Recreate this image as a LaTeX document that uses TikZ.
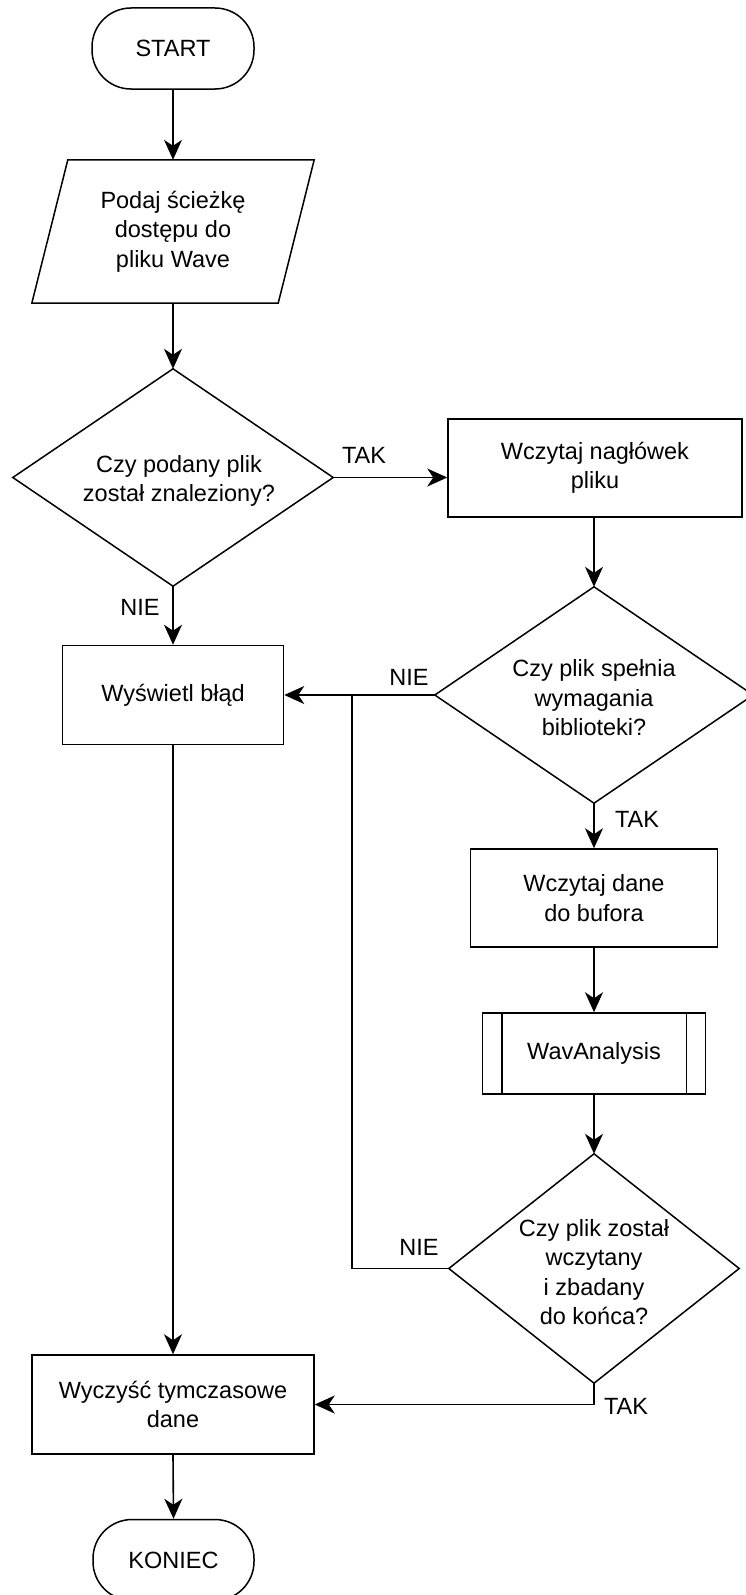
\documentclass[tikz,border=0pt]{standalone}
\usepackage{fontspec}
\setmainfont{Liberation Sans}
\usetikzlibrary{arrows.meta}
\begin{document}
\begin{tikzpicture}[x=1pt,y=-1pt,
  every node/.style={font=\fontsize{23.5pt}{29.5pt}\selectfont, text=black, inner sep=0pt},
  boxnode/.style={draw, line width=1.5pt, align=center, rectangle},
  ghost/.style={rectangle, align=center},
  term/.style={draw, line width=1.5pt, rectangle, rounded corners=39pt, align=center},
  shapeline/.style={draw, line width=1.5pt, line join=miter},
  conn/.style={line width=1.6pt, -{Stealth[length=20pt,width=18pt,inset=6pt]}},
  plainconn/.style={line width=1.6pt},
  lbl/.style={font=\fontsize{23.5pt}{29.5pt}\selectfont}
]
\useasboundingbox (0,0) rectangle (746,1595);

% nodes
\node[term, minimum width=162pt, minimum height=81pt] (start) at (173,48.5) {START};
\node[ghost, minimum width=282pt, minimum height=143pt] (in) at (173,231.5) {Podaj ścieżkę\\dostępu do\\pliku Wave};
\draw[shapeline] ([xshift=36pt]in.north west) -- (in.north east) -- ([xshift=-36pt]in.south east) -- (in.south west) -- cycle;

\node[ghost, minimum width=320pt, minimum height=217pt] (d1) at (173,477.5) {};
\draw[shapeline] (d1.north) -- (d1.east) -- (d1.south) -- (d1.west) -- cycle;
\node[align=center] (d1t) at (179,481) {Czy podany plik\\został znaleziony?};

\node[boxnode, minimum width=294pt, minimum height=98pt] (b1) at (595,468) {Wczytaj nagłówek\\pliku};

\node[ghost, minimum width=318pt, minimum height=216pt] (d2) at (594,695) {};
\draw[shapeline] (d2.north) -- (d2.east) -- (d2.south) -- (d2.west) -- cycle;
\node[align=center] (d2t) at (594,698) {Czy plik spełnia\\wymagania\\biblioteki?};

\node[boxnode, minimum width=221pt, minimum height=99pt] (err) at (173,695) {Wyświetl błąd};

\node[boxnode, minimum width=247pt, minimum height=98pt] (b2) at (594,898) {Wczytaj dane\\do bufora};

\node[boxnode, minimum width=223pt, minimum height=81pt] (wav) at (594,1053.5) {WavAnalysis};
\draw[line width=1.5pt] ([xshift=20pt]wav.north west) -- ([xshift=20pt]wav.south west);
\draw[line width=1.5pt] ([xshift=-20pt]wav.north east) -- ([xshift=-20pt]wav.south east);

\node[ghost, minimum width=290pt, minimum height=229pt] (d3) at (594,1268.5) {};
\draw[shapeline] (d3.north) -- (d3.east) -- (d3.south) -- (d3.west) -- cycle;
\node[align=center] (d3t) at (594,1272) {Czy plik został\\wczytany\\i zbadany\\do końca?};

\node[boxnode, minimum width=282pt, minimum height=99pt] (clean) at (173,1404.5) {Wyczyść tymczasowe\\dane};

\node[term, minimum width=161pt, minimum height=81pt] (end) at (173.5,1560) {KONIEC};

\coordinate (j) at (352,695);

% connectors
\draw[conn] (start.south) -- (in.north);
\draw[conn] (in.south) -- (d1.north);
\draw[conn] (d1.east) -- (d1.east -| b1.west);
\node[lbl] (ltak1) at (364,455) {TAK};
\draw[conn] (d1.south) -- (err.north);
\node[lbl] (lnie1) at (140,607) {NIE};
\draw[conn] (b1.south -| d2.north) -- (d2.north);
\draw[conn] (d2.west) -- (err.east);
\node[lbl] (lnie2) at (409,677) {NIE};
\draw[conn] (d2.south) -- (b2.north);
\node[lbl] (ltak2) at (637,819) {TAK};
\draw[conn] (b2.south) -- (wav.north);
\draw[conn] (wav.south) -- (d3.north);
\draw[plainconn] (d3.west) -| (j);
\node[lbl] (lnie3) at (419,1247) {NIE};
\draw[conn] (d3.south) |- (clean.east);
\node[lbl] (ltak3) at (626,1406) {TAK};
\draw[conn] (err.south) -- (clean.north);
\draw[conn] (clean.south) -- (end.north);
\end{tikzpicture}
\end{document}
